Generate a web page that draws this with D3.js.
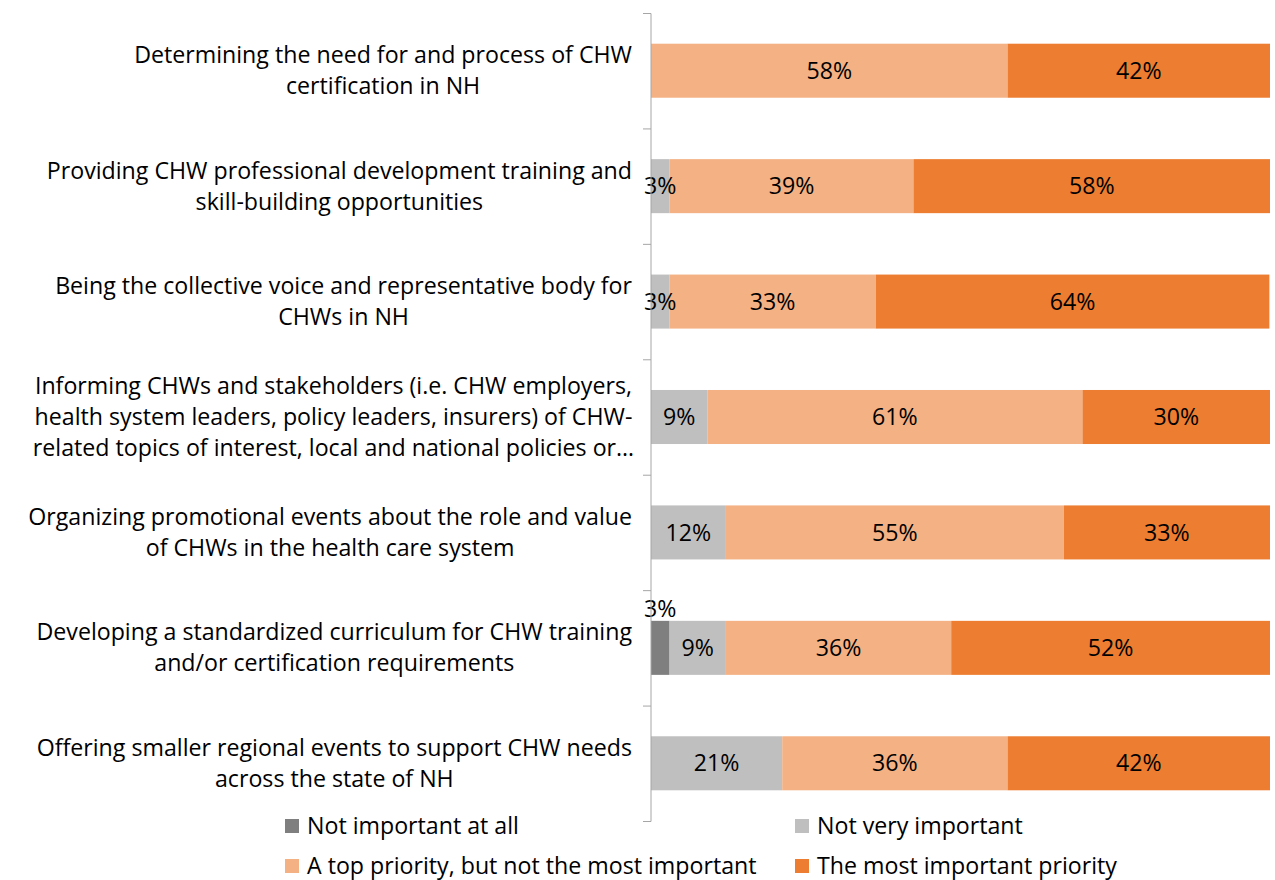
<!DOCTYPE html>
<html>
<head>
<meta charset="utf-8">
<script src="https://cdn.jsdelivr.net/npm/d3@7"></script>
<style>
  body { margin: 0; background: #fff; }
  svg text { font-family: "Open Sans", "Lato", sans-serif; fill: #000; }
</style>
</head>
<body>
<div id="chart"></div>
<script>
// category labels, already wrapped as in the original (4th one truncated)
const categories = [
  ['Determining the need for and process of CHW', 'certification in NH'],
  ['Providing CHW professional development training and', 'skill-building opportunities'],
  ['Being the collective voice and representative body for', 'CHWs in NH'],
  ['Informing CHWs and stakeholders (i.e. CHW employers,', 'health system leaders, policy leaders, insurers) of CHW-', 'related topics of interest, local and national policies or\u2026'],
  ['Organizing promotional events about the role and value', 'of CHWs in the health care system'],
  ['Developing a standardized curriculum for CHW training', 'and/or certification requirements'],
  ['Offering smaller regional events to support CHW needs', 'across the state of NH']
];
const seriesNames = ['Not important at all', 'Not very important', 'A top priority, but not the most important', 'The most important priority'];
const notAtAll   = [0, 0, 0, 0, 0, 3.0, 0];
const notVery    = [0, 3.0, 3.0, 9.1, 12.1, 9.1, 21.2];
const topPriority= [57.6, 39.4, 33.3, 60.6, 54.6, 36.4, 36.4];
const mostImportant = [42.4, 57.6, 63.6, 30.3, 33.3, 51.5, 42.4];
const colors = ['#7f7f7f', '#bfbfbf', '#f4b183', '#ed7d31'];

const width = 1275, height = 880;
const svg = d3.select('#chart').append('svg').attr('width', width).attr('height', height);

// fit font size so the first label line is as wide as in the original (~498px)
const probe = svg.append('text').style('font-size', '20px').text(categories[0][0]);
const fs = 20 * 498 / probe.node().getComputedTextLength();
probe.remove();

const x = d3.scaleLinear().domain([0, 100]).range([651, 1270]);
const y = d3.scaleBand().domain(d3.range(categories.length)).range([13, 821]).paddingInner(0.532).paddingOuter(0.266);

const rows = categories.map((c, i) => ({i, vals: [notAtAll[i], notVery[i], topPriority[i], mostImportant[i]]}));
const stack = d3.stack().keys([0, 1, 2, 3]).value((d, k) => d.vals[k]);
const layers = stack(rows);

const layerG = svg.selectAll('g.layer').data(layers).join('g')
  .attr('class', 'layer').attr('fill', (d, k) => colors[k]);
layerG.selectAll('rect').data(d => d.filter(s => s[1] - s[0] > 0)).join('rect')
  .attr('x', d => x(d[0]))
  .attr('width', d => x(d[1]) - x(d[0]))
  .attr('y', d => y(d.data.i))
  .attr('height', y.bandwidth());

// value labels
layers.forEach((layer, k) => {
  layer.filter(s => s[1] - s[0] > 0).forEach(s => {
    const v = s[1] - s[0];
    const above = (k === 0);
    svg.append('text')
      .attr('x', (x(s[0]) + x(s[1])) / 2)
      .attr('y', above ? y(s.data.i) - 12 : y(s.data.i) + y.bandwidth() / 2)
      .attr('dy', '0.35em')
      .attr('text-anchor', 'middle')
      .style('font-size', fs + 'px')
      .text(Math.round(v) + '%');
  });
});

// axis line + ticks at band boundaries
const axisScale = d3.scaleLinear().domain([0, categories.length]).range([13, 821]);
const axis = d3.axisLeft(axisScale).tickValues(d3.range(categories.length + 1)).tickSize(8).tickFormat('');
const ag = svg.append('g').attr('transform', 'translate(651,0)').call(axis);
ag.select('.domain').attr('stroke', '#a6a6a6').attr('d', 'M-8,13.5H0V821.5H-8');
ag.selectAll('.tick line').attr('stroke', '#a6a6a6');

// category labels, centred lines, right edge of first line at 632
const lineH = 31;
categories.forEach((lines, i) => {
  const cy = y(i) + y.bandwidth() / 2;
  const t = svg.append('text').attr('text-anchor', 'middle').style('font-size', fs + 'px');
  const spans = lines.map((ln, j) => t.append('tspan')
      .attr('y', cy + (j - (lines.length - 1) / 2) * lineH)
      .attr('dy', '0.35em').text(ln));
  const w0 = spans[0].node().getComputedTextLength();
  spans.forEach(sp => sp.attr('x', 632 - w0 / 2));
});

// legend
const legendPos = [[285, 826], [795, 826], [285, 866], [795, 866]];
seriesNames.forEach((name, k) => {
  const [lx, ly] = legendPos[k];
  svg.append('rect').attr('x', lx).attr('y', ly - 7).attr('width', 14).attr('height', 14).attr('fill', colors[k]);
  svg.append('text').attr('x', lx + 22).attr('y', ly).attr('dy', '0.35em')
    .style('font-size', fs + 'px').text(name);
});
</script>
</body>
</html>
